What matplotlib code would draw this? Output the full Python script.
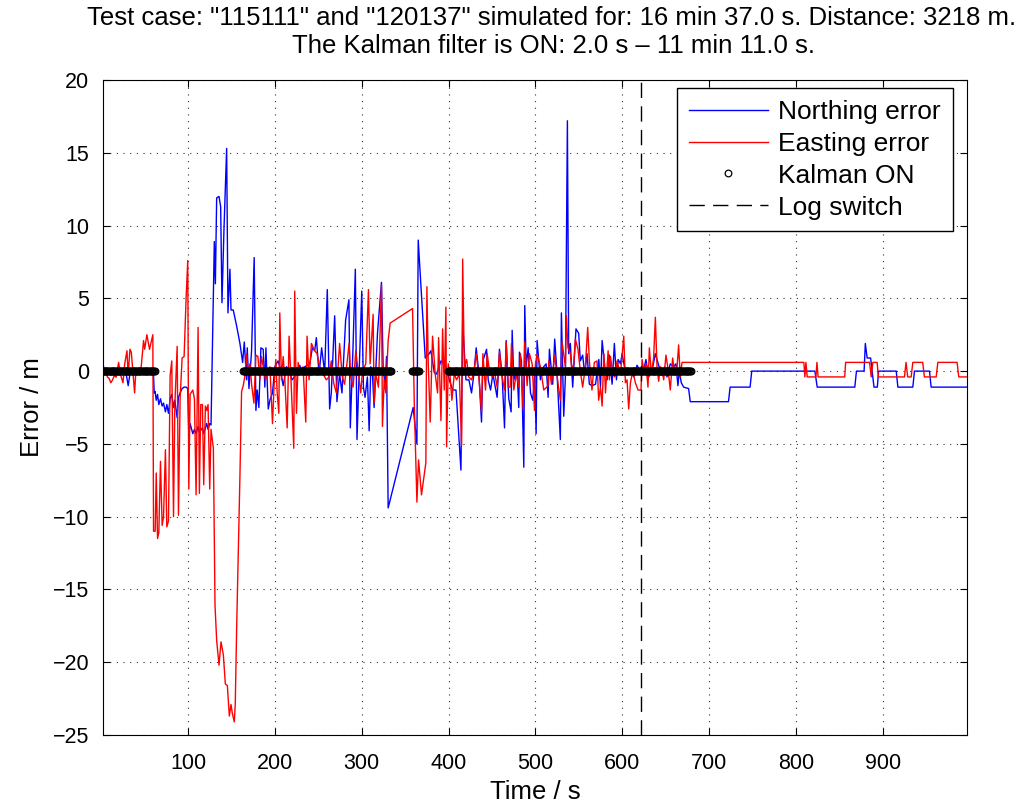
import numpy as np
import matplotlib
matplotlib.use("Agg")
import matplotlib.pyplot as plt

plt.rcParams['font.family'] = ['Liberation Sans', 'DejaVu Sans']

# ---------------- data ----------------
north_t = [2, 3, 5, 8, 11, 14, 17, 20, 23, 26, 29, 31, 33, 36, 40, 44, 48, 52, 56, 60,
           61, 62, 63.3, 64.8, 66.3, 68.2, 70.1, 71.7, 73.9, 75.5, 77.4, 79.3, 81.2, 83.2, 84.7,
           87.4, 88.9, 90.8, 93.1, 95.4, 97.7, 99.6, 100.8, 102.3, 105.4, 107.3, 109.2, 111.5, 113,
           116.5, 118, 121.4, 123, 124.9, 126.4, 130.2, 131.4, 132.9, 135.6, 137.5, 139.0, 141.3,
           144.4, 145.9, 148.2, 149.4, 152, 155.9, 159.7, 162.8, 164.7, 167.4,
           168.1, 170.1, 173.1, 176.1, 178.1, 179.6, 181.5, 183.8, 186.5, 188.4, 189.6, 192.3,
           194.2, 197.2, 199.9, 203.7, 205.6, 209.5, 213.3, 216.3, 219.8, 224.8, 228.6, 231.6,
           234.3, 240.1, 243.1, 245.8, 247.7, 250.8, 253.8, 257.3, 260.3, 263.0, 264.9, 268.8,
           271.4, 274.5, 277.2, 281.4, 285.2, 286.8, 289.9, 292.6, 294.5,
           296.9, 300, 301.9, 303.8, 306.5, 308.5, 310.4, 312.3, 314.2, 318.1, 322.7, 324.6,
           326.9, 328.5, 330.4, 359.2, 363.5, 365.0, 373.1, 377.7, 379.6, 383.5, 386.2, 391.2,
           396.9, 400.8, 404.6, 408.5, 414.2, 416.2, 420, 423.4, 426.4, 429.1, 431.8, 434.9,
           437.9, 439.5, 443.7, 445.6, 448.3, 451, 455.9, 458.6, 461.7, 464.4, 466.3, 469.3, 472,
           473.2, 475.1, 478.9, 480.8, 481.6, 483.9, 486.6, 487.7, 489.3, 491.6, 494.3, 496.9,
           499.2, 500.8, 501.9, 505.7, 509.6, 512.3, 514.6, 516.1, 519.9, 522.2, 524.9, 528.7,
           529.9, 532.6, 534.5, 536.8, 538.3, 540.2, 542.9, 546.7, 549.8, 551.7, 554.4, 556.7,
           559.4, 562.1, 565.1, 569.2, 573, 574.9, 576.8, 579.9, 582.6, 585.2, 588.3, 590.9,
           593.3, 595.2, 597.9, 599.8, 602.5, 605.5, 609.4, 613.2, 617, 620.8, 624.7, 627.3,
           630.4, 634.2, 638.1, 641.9, 645.7, 648.8, 651.5, 655.3, 659.1, 661.8, 664.1, 665.7,
           668, 670.7, 676.4, 678.3, 722.3, 724.2, 747.2, 749.1, 821.8, 824.5, 867.8, 869.7,
           878.5, 879.9, 882, 886, 889.9, 893.7, 895.2, 915.5, 917.4, 934.6, 936.5, 953.8,
           955.7, 997]
north_v = [0.5, 0.2, -0.2, 0.1, -0.3, 0.0, -0.4, 0.1, -0.2, 0.2, -0.3, -1.0, -0.2, 0.1, -0.3, 0.0, -0.2, 0.1, -0.1, 0.0,
           -1.5, -1.4, -2.0, -1.6, -2.3, -1.9, -2.4, -2.2, -2.8, -2.3, -2.9, -1.9, -1.6, -2.5, -2.0,
           -3.2, -1.8, -1.5, -1.2, -1.1, -1.1, -1.2, -4.5, -3.6, -4.3, -4.0, -4.3, -3.8, -4.2,
           -3.9, -4.3, -3.6, -4.0, -3.6, -3.7, 8.9, 6.0, 11.9, 12.0, 11.3, 4.7, 9.7,
           15.3, 4.0, 7.0, 4.2, 4.2, 3.1, 1.9, 0.6, 2.0, -0.6,
           1.6, -1.2, 1.4, 7.8, -2.7, -1.3, -2.5, 1.6, 1.5, -1.1, 1.6, -2.6,
           -2.0, -1.5, 0.3, 0.7, 0.3, -1.0, 0.3, 0.0, -0.6, -0.2, 0.4, -0.2,
           0.3, 0.5, 1.6, 1.4, 2.3, -0.2, 1.6, -0.1, 5.6, -2.6, -1.5, 3.8,
           -2.1, -0.2, -1.5, 3.5, 4.9, -3.9, 1.6, 7.0, -4.7,
           -0.3, 5.5, -1.1, -1.8, -0.4, -4.1, 0.3, -0.2, -2.5, 2.6, 6.1, 0.3,
           -1.1, 1.0, -9.4, -2.5, -5.0, 9.0, 0.9, 1.2, 1.4, -0.1, -0.2, 0.7,
           0.3, -0.6, -1.3, -1.3, -6.8, 3.3, -0.6, -0.6, -1.5, -0.2, 1.6, -0.2,
           -3.5, 0.7, 1.5, -0.6, -1.3, -0.2, -1.8, 1.5, -0.4, -3.9, 2.1, -1.9, -2.8,
           2.8, -0.6, 0.0, -2.5, 1.3, 0.7, -6.6, 4.5, 0.3, 1.6, -1.5, -2.0,
           -0.2, -4.3, 2.1, -0.6, 0.3, 0.5, -1.8, 1.5, -0.9, 2.2, -0.2, -4.7,
           4.0, -3.1, -0.4, 17.2, 1.2, 1.9, -1.1, 2.9, 2.6, 0.7, 1.1, -0.2,
           1.2, -0.9, -1.0, -0.9, 0.8, -1.1, 2.1, 0.3, -0.6, 1.1, -0.9, 1.9,
           -0.6, 0.8, 0.5, 1.2, 0.3, 0.0, 0.1, -0.4, 0.4, 0.0, 0.1, 0.8,
           -0.4, 0.0, 1.2, 0.4, -0.3, 0.3, -0.4, 0.5, 0.3, 0.5, -1.0, 0.0,
           -0.8, -1.1, -1.2, -2.1, -2.1, -1.1, -1.1, 0.0, 0.0, -1.1, -1.1, 0.0,
           0.0, 1.9, 0.9, 0.9, -1.1, -1.1, 0.0, 0.0, -1.1, -1.1, 0.0, 0.0,
           -1.1, -1.1]

east_t = [2, 3, 5, 7, 9, 11, 13, 15, 17, 20, 22, 25, 27, 29.6, 31, 33, 34.6, 36, 38.4, 40, 43, 46,
          48.7, 50, 52.5, 55.6, 59.4, 60.2,
          62.1, 63.3, 64.8, 66.3, 68.2, 70.1, 71.7, 73.9, 75.5, 77.4, 79.3, 81.2, 83.2, 84.7,
          87.4, 88.9, 90.8, 93.1, 95.4, 97.7, 99.6, 100.8, 102.3, 105.4, 107.3, 109.2, 111.5,
          113, 114.6, 116.5, 118, 119.9, 121.4, 123, 124.9, 126.4, 129.1, 131, 132.9, 135.6,
          137.9, 140.6, 142.9, 145.2, 147.5, 149.4, 150.9, 153.2, 154.3, 155.9, 157.8, 159.7,
          161.6, 163.5, 165.5,
          167.4, 169.3, 171.2, 173.1, 175.8, 178.1, 180.4, 182.7, 184.6, 186.5, 189.2, 192.3,
          194.2, 197.2, 199.1, 201.0, 202.6, 204.5, 205.6, 207.5, 209.5, 211.4, 214.1, 216.3,
          219.0, 221.7, 222.8, 224.8, 226.7, 229.4, 232.4, 235.5, 237.0, 239.3, 242.0, 245.8,
          248.5, 251.5, 255.4, 259.2, 262.3, 264.9, 267.6, 270.7, 274.5, 277.6, 280.2, 282.9,
          285.4, 287.3, 290, 293.1, 296.2, 298.8, 300.8, 304.6, 307.7, 309.6, 313.1, 314.2,
          316.2, 319.2, 322.7, 323.8, 325.8, 327.7, 330.4, 332.7, 358.5, 360.4, 363.5, 365.4,
          368.8, 373.8, 375.0, 376.5, 378.8, 381.5, 384.6, 387.3, 388.5, 391.2, 393.1, 395,
          396.9, 397.7, 399.6, 401.5, 403.8, 406.5, 409.2, 412.3, 415, 416.2, 418.1, 420.8,
          423.1, 426.4, 429.1, 431.8, 434.9, 437.9, 439.5, 442.5, 444.4, 447.1, 450.2, 453.3,
          455.9, 458.6, 461.7, 464.4, 466.3, 468.6, 470.9, 472.4, 475.1, 477.8, 480.8, 482.8,
          485.8, 487.7, 490.4, 493.1, 496.2, 498.9, 500, 501.9, 505.7, 509.6, 514.6, 515.3,
          518.4, 522.2, 526.1, 528.7, 530.7, 534.5, 535.6, 537.5, 540.2, 542.1, 544.1, 546,
          549, 551.7, 554.4, 557.5, 560.2, 562.1, 565.1, 567.8, 570.9, 572.8,
          574.9, 576.8, 578.8, 580.7, 583.7, 585.2, 586.4, 589.1, 591.3, 594, 597.9, 601.7,
          603.6, 605.5, 607.4, 609.4, 612.1, 615.1, 618.2, 621.6, 622.8, 624.7, 627.3, 629.6,
          631.2, 633.5, 636.1, 638.1, 640, 641.9, 643.8, 645.7, 647.7, 650.3, 652.6, 655.3,
          658, 660.3, 663, 664.9, 666.8, 668.8, 809.1, 810.3, 811.5, 813, 823, 824.2, 825.5,
          856.2, 857.2, 884.8, 886.7, 888.6, 893.5, 895, 925, 926.8, 928.7, 932.7, 934.6,
          946, 947.9, 961.5, 963.4, 985.6, 987.5, 997]
east_v = [0.6, -0.3, 0.2, -0.4, -0.5, -0.8, -0.6, -0.3, -0.4, 0.6, -0.2, -0.8, 0.5, 1.4, -0.3, 1.5, 1.3, 0.3, -1.5, 0.2, -0.2, 0.3,
          2.1, 1.5, 2.5, 1.5, 2.5, -11.0,
          -11.0, -7.0, -11.5, -11.1, -6.2, -10.6, -10.0, -5.4, -10.7, -10.3, -0.3, 0.7, -10.0, -2.4,
          1.7, -9.9, -1.9, 0.9, 1.0, 5.0, 7.6, -8.1, -1.6, -1.3, -1.9, -8.5, 3.0,
          -8.4, -2.3, -2.3, -7.8, -2.4, -2.7, -2.3, -8.1, -4.0, -5.3, -16.1, -18.5, -20.2,
          -18.6, -19.5, -21.5, -21.6, -23.7, -22.9, -23.5, -24.1, -22.9, -17.7, -12.4, -7.2,
          -1.4, -1.0, -0.3,
          1.2, -0.2, 0.5, -0.9, -2.2, 1.1, 1.0, -0.6, 1.0, 0.3, -0.6, -0.2,
          0.3, -3.6, -0.9, 0.8, -1.5, -2.9, 4.0, -0.6, 1.0, -0.6, -3.9, 2.4,
          -1.3, -5.3, 5.5, -2.9, 0.6, -0.2, 0.3, -3.5, 2.4, -0.6, 1.9, 1.4,
          1.2, 0.3, -0.2, -0.6, -0.4, 0.7, -0.8, -1.5, 1.9, -0.4, -0.9, 0.5,
          1.9, -0.4, -1.1, 1.4, -0.2, -1.5, 0.0, 0.5, 5.6, 0.5, 3.9, -2.2,
          -0.2, -1.1, 5.9, -3.8, -0.6, -1.5, 2.1, 3.3, 4.3, -2.0, -9.0, -6.1,
          -8.5, -6.3, 5.8, 0.7, -3.5, 2.4, -0.2, -1.5, 2.3, -3.4, 2.9, -1.3,
          4.4, -5.2, 0.5, -0.2, -2.0, -0.2, -0.6, -0.2, -5.1, 7.7, 0.3, 0.8,
          -0.4, -0.6, -0.1, 1.2, -0.4, -2.8, 1.2, -1.3, 1.2, 0.0, -0.4, -0.2,
          -1.1, 1.3, -0.4, -1.3, 2.0, -1.1, -1.1, 1.9, -1.3, -0.2, -1.1, 1.2,
          -2.6, 2.0, -1.0, 1.2, 0.5, -2.7, 0.5, 1.2, 0.3, -1.3, -1.0, 0.7,
          -0.9, 1.1, -0.9, -2.0, 2.0, 0.3, 3.8, 1.6, 1.2, 0.0, 0.5, 2.2,
          1.5, 0.0, -1.1, 0.3, 3.0, 0.7, -1.3, 0.6, 0.7, -2.0,
          -1.1, -2.4, 1.2, -1.5, 1.4, -0.6, 1.0, -0.2, -0.4, 0.7, -0.2, 2.4,
          -0.8, -0.6, -2.6, -0.8, 0.0, -0.8, -1.3, -1.3, 0.8, 0.1, 0.5, -1.1,
          1.6, -0.2, 0.9, 3.7, 0.3, -0.7, 0.3, 0.1, -0.6, 1.1, 0.2, -1.3,
          0.9, -0.1, 0.2, 1.8, -0.4, 0.6, 0.6, -0.4, 0.6, -0.4, -0.4, 0.6, -0.4,
          -0.4, 0.6, 0.6, -0.4, 0.6, 0.6, -0.4, -0.4, 0.6, -0.4, -0.4, 0.6,
          0.6, -0.4, -0.4, 0.6, 0.6, -0.4, -0.4]

kalman_start = [2, 163, 358, 399]
kalman_end = [62, 334, 366, 679]
log_switch_t = 621

x_ticks = [100, 200, 300, 400, 500, 600, 700, 800, 900]
y_ticks = [-25, -20, -15, -10, -5, 0, 5, 10, 15, 20]

title1 = 'Test case: "115111" and "120137" simulated for: 16 min 37.0 s. Distance: 3218 m.'
title2 = 'The Kalman filter is ON: 2.0 s \u2013 11 min 11.0 s.'

# ---------------- figure ----------------
W, H = 1026, 805
fig = plt.figure(figsize=(W / 100, H / 100), dpi=100)
ax = fig.add_axes([103 / W, 1 - 735 / H, (967 - 103) / W, (735 - 80) / H])

ax.plot(north_t, north_v, color='#0000ff', lw=1.0, label='Northing error')
ax.plot(east_t, east_v, color='#ff0000', lw=1.0, label='Easting error')

k_t = np.concatenate([np.arange(s, e + 0.01, 1.0) for s, e in zip(kalman_start, kalman_end)])
ax.plot(k_t, np.zeros_like(k_t), linestyle='none', marker='o', markersize=4.8,
        markerfacecolor='none', markeredgecolor='black', markeredgewidth=0.9, label='Kalman ON')

ls, = ax.plot([log_switch_t, log_switch_t], [-25, 20], color='black', lw=1.0, label='Log switch')
ls.set_dashes((11, 6))

ax.set_xlim(2, 997)
ax.set_ylim(-25, 20)
ax.set_xticks(x_ticks)
ax.set_yticks(y_ticks)
ax.tick_params(direction='in', length=5, width=0.8, top=True, right=True, labelsize=15.5)
ax.tick_params(axis='x', pad=13)
ax.tick_params(axis='y', pad=10)
for s in ax.spines.values():
    s.set_linewidth(0.8)
ax.grid(True, color='0.2', linestyle=(0, (1, 5)), linewidth=0.8)

ax.set_xlabel('Time / s', fontsize=18.5, labelpad=4)
ax.set_ylabel('Error / m', fontsize=18.5, labelpad=6)

fig.text(552 / W, 1 - 18 / H, title1, ha='center', va='center', fontsize=18.5)
fig.text(553 / W, 1 - 46 / H, title2, ha='center', va='center', fontsize=18.5)

leg = ax.legend(loc='upper right', bbox_to_anchor=(953 / W, 1 - 88 / H),
                bbox_transform=fig.transFigure, borderaxespad=0, fontsize=19,
                handlelength=3.0, handletextpad=0.4, labelspacing=0.3, numpoints=1,
                fancybox=False, framealpha=1, edgecolor='black', borderpad=0.45)
leg.get_frame().set_linewidth(1.0)

fig.savefig('out.png', dpi=100)
